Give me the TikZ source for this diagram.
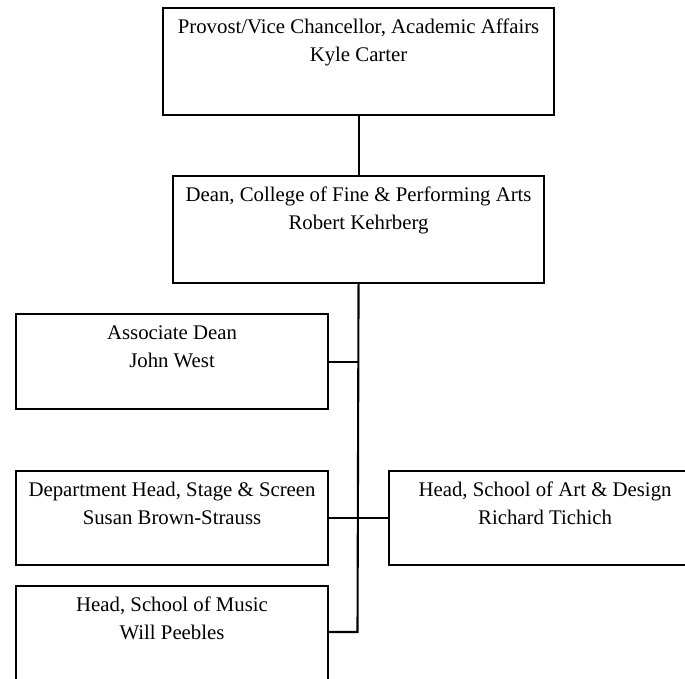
\documentclass[tikz,border=0pt]{standalone}
\usepackage{fontspec}
\setmainfont{Liberation Serif}
\begin{document}
\begin{tikzpicture}[x=1pt,y=-1pt,
  orgbox/.style={draw=black,line width=2.1pt,inner sep=0pt,anchor=north west,
    font=\fontsize{20.8}{27.7}\selectfont},
  link/.style={draw=black,line width=2.1pt}]
  % box content: top-aligned two centred lines
  \newcommand{\orgtext}[4]{\parbox[c][#2pt][t]{#1pt}{\centering\rule{0pt}{25.7pt}#3\\#4}}
  \useasboundingbox (0,0) rectangle (685,679);
  \begin{scope}
    \clip (0,0) rectangle (685,679);
    \node[orgbox] (provost) at (162,7)
      {\orgtext{391}{107}{Provost/Vice Chancellor, Academic Affairs}{Kyle Carter}};
    \node[orgbox] (dean) at (172,175)
      {\orgtext{371}{107}{Dean, College of Fine \& Performing Arts}{Robert Kehrberg}};
    \node[orgbox] (assoc) at (15,313)
      {\orgtext{312}{95}{Associate Dean}{John West}};
    \node[orgbox] (stage) at (15,470)
      {\orgtext{312}{94}{Department Head, Stage \& Screen}{Susan Brown-Strauss}};
    \node[orgbox] (art) at (388,470)
      {\orgtext{312}{94}{Head, School of Art \& Design}{Richard Tichich}};
    \node[orgbox] (music) at (15,585)
      {\orgtext{312}{97}{Head, School of Music}{Will Peebles}};
    \coordinate (mj) at (357.5,632);
    \draw[link] (provost.south) -- (dean.north);
    \draw[link] (dean.south) -- (mj) -- (music.east |- mj);
    \draw[link] (assoc.east) -- (assoc.east -| dean.south);
    \draw[link] (stage.east) -- (art.west);
  \end{scope}
\end{tikzpicture}
\end{document}
